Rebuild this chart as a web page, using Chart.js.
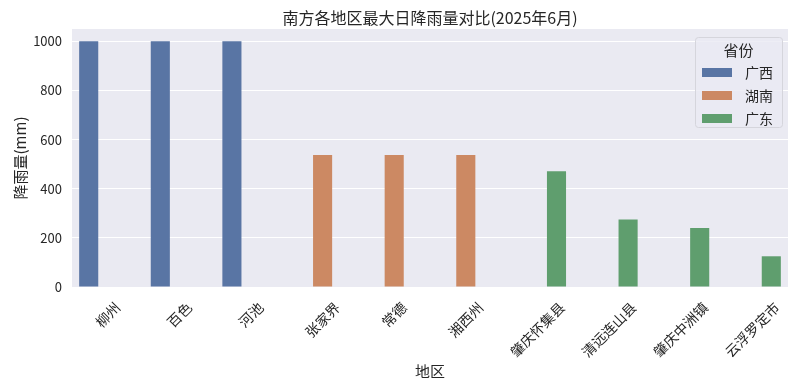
<!DOCTYPE html>
<html>
<head>
<meta charset="utf-8">
<script src="https://cdn.jsdelivr.net/npm/chart.js@4/dist/chart.umd.min.js"></script>
<style>
  html, body { margin: 0; padding: 0; background: #fff; }
</style>
</head>
<body>
<canvas id="rainChart" width="800" height="386"></canvas>
<script>
// données
const regions = ["柳州", "百色", "河池", "张家界", "常德", "湘西州", "肇庆怀集县", "清远连山县", "肇庆中洲镇", "云浮罗定市"];
const provinces = ["广西", "湖南", "广东"];
const guangxi = [1000, 1000, 1000, null, null, null, null, null, null, null];
const hunan = [null, null, null, 537, 537, 537, null, null, null, null];
const guangdong = [null, null, null, null, null, null, 471, 275, 240, 125];
const yTicks = [0, 200, 400, 600, 800, 1000];

const colors = ["#5975a4", "#cc8963", "#5f9e6e"];
const FONT = "'Noto Sans CJK SC', 'DejaVu Sans', sans-serif";
const TEXT = "#262626";

// fond gris + titre + étiquettes x + légende dessinés à la main
const seabornStyle = {
  id: "seabornStyle",
  beforeDraw(chart) {
    const { ctx, chartArea: a } = chart;
    ctx.save();
    ctx.fillStyle = "#eaeaf2";
    ctx.fillRect(a.left, a.top, a.right - a.left, a.bottom - a.top);
    ctx.restore();
  },
  afterDraw(chart) {
    const { ctx, chartArea: a } = chart;
    const xs = chart.scales.x;
    ctx.save();
    ctx.fillStyle = TEXT;

    // titre
    ctx.font = "16px " + FONT;
    ctx.textAlign = "center";
    ctx.textBaseline = "middle";
    ctx.fillText("南方各地区最大日降雨量对比(2025年6月)", (a.left + a.right) / 2, 18);

    // étiquettes x tournées à 45°
    ctx.font = "14px " + FONT;
    regions.forEach((label, i) => {
      const x = xs.getPixelForTick(i);
      const w = ctx.measureText(label).width;
      const h = 14;
      const cy = a.bottom + 13 + (w + h) / (2 * Math.SQRT2);
      ctx.save();
      ctx.translate(x, cy);
      ctx.rotate(-Math.PI / 4);
      ctx.textAlign = "center";
      ctx.textBaseline = "middle";
      ctx.fillText(label, 0, 0);
      ctx.restore();
    });

    // légende
    const lx = 695, ly = 37, lw = 87, lh = 90;
    ctx.fillStyle = "rgba(234,234,242,0.8)";
    ctx.strokeStyle = "#d5d5dc";
    ctx.lineWidth = 1;
    ctx.beginPath();
    ctx.roundRect(lx + 0.5, ly + 0.5, lw, lh, 3);
    ctx.fill();
    ctx.stroke();

    ctx.fillStyle = TEXT;
    ctx.font = "15px " + FONT;
    ctx.textAlign = "center";
    ctx.fillText("省份", lx + lw / 2, ly + 13);

    ctx.font = "14px " + FONT;
    ctx.textAlign = "left";
    provinces.forEach((name, i) => {
      const cy = ly + 35 + i * 23;
      ctx.fillStyle = colors[i];
      ctx.fillRect(lx + 7, cy - 4, 30, 9);
      ctx.fillStyle = TEXT;
      ctx.fillText(name, lx + 50, cy + 1);
    });
    ctx.restore();
  }
};

new Chart(document.getElementById("rainChart"), {
  type: "bar",
  data: {
    labels: regions,
    datasets: [
      { label: provinces[0], data: guangxi, backgroundColor: colors[0] },
      { label: provinces[1], data: hunan, backgroundColor: colors[1] },
      { label: provinces[2], data: guangdong, backgroundColor: colors[2] },
    ],
  },
  options: {
    responsive: false,
    animation: false,
    layout: { padding: { top: 29, right: 12, left: 0, bottom: 0 } },
    datasets: { bar: { categoryPercentage: 0.8, barPercentage: 1.0 } },
    plugins: {
      legend: { display: false },
      title: { display: false },
      tooltip: { enabled: false },
    },
    scales: {
      x: {
        grid: { display: false },
        border: { display: false },
        ticks: { display: false },
        afterFit(scale) { scale.height = 99; },
        title: {
          display: true,
          text: "地区",
          color: TEXT,
          font: { family: FONT, size: 15 },
          padding: { top: 0, bottom: 6 },
        },
      },
      y: {
        min: 0,
        max: 1050,
        afterBuildTicks(scale) { scale.ticks = yTicks.map((v) => ({ value: v })); },
        afterFit(scale) { scale.width = 72; },
        grid: { color: "#ffffff", lineWidth: 1, drawTicks: false },
        border: { display: false },
        ticks: {
          padding: 10,
          color: TEXT,
          font: { family: FONT, size: 13 },
          callback: (v) => String(v),
        },
        title: {
          display: true,
          text: "降雨量(mm)",
          color: TEXT,
          font: { family: FONT, size: 15 },
          padding: { top: 11, bottom: 0 },
        },
      },
    },
  },
  plugins: [seabornStyle],
});
</script>
</body>
</html>
